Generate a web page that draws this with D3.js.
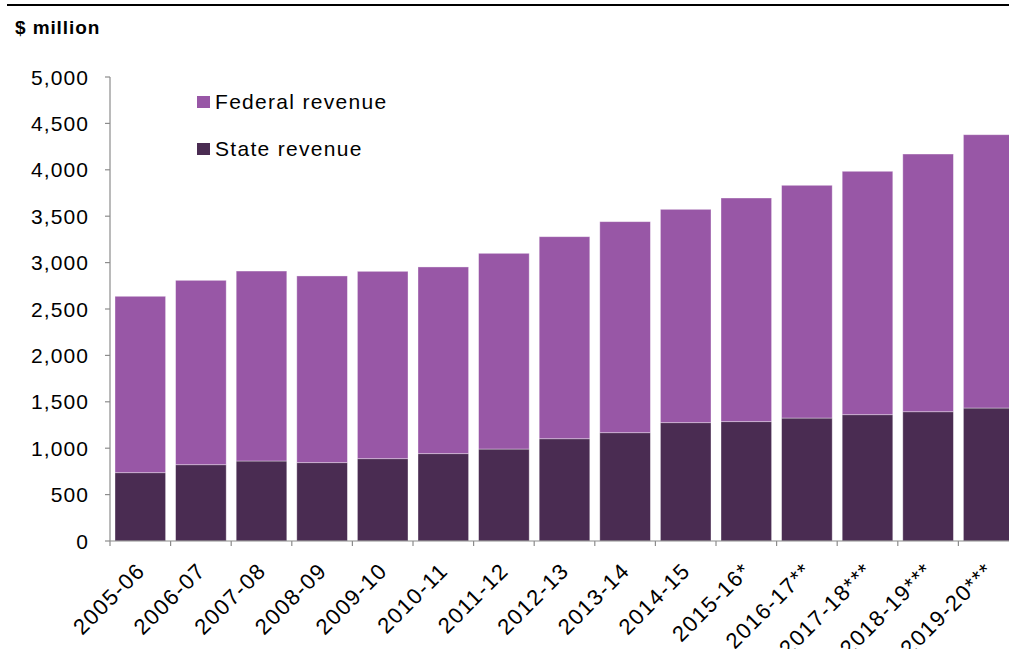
<!DOCTYPE html>
<html>
<head>
<meta charset="utf-8">
<script src="https://cdn.jsdelivr.net/npm/d3@7"></script>
<style>
  body { margin: 0; background: #fff; }
  text { font-family: "Liberation Sans", Arial, sans-serif; fill: #000; }
</style>
</head>
<body>
<svg id="chart" width="1009" height="649"></svg>
<script>
// --- data ($ million) ---
var years = ["2005-06", "2006-07", "2007-08", "2008-09", "2009-10", "2010-11", "2011-12",
  "2012-13", "2013-14", "2014-15", "2015-16*", "2016-17**", "2017-18***", "2018-19***", "2019-20***"];
var stateRevenue = [736, 822, 862, 844, 887, 941, 991, 1102, 1167, 1275, 1286, 1325, 1361, 1393, 1433];
var federalRevenue = [1901, 1987, 2047, 2012, 2019, 2012, 2109, 2177, 2274, 2299, 2410, 2508, 2623, 2777, 2945];
var yTicks = [0, 500, 1000, 1500, 2000, 2500, 3000, 3500, 4000, 4500, 5000];

var seriesNames = ["State revenue", "Federal revenue"];
var colors = { "State revenue": "#4a2c52", "Federal revenue": "#9857a6" };

var svg = d3.select("#chart");

var plot = { left: 110, bottom: 541, top: 77, right: 1019 };

var x = d3.scaleBand()
  .domain(years)
  .range([plot.left, plot.right])
  .paddingInner(0.165)
  .paddingOuter(0.0825);

var y = d3.scaleLinear()
  .domain([0, 5000])
  .range([plot.bottom, plot.top]);

// build rows for the stack
var rows = years.map(function(yr, i) {
  return { year: yr, "State revenue": stateRevenue[i], "Federal revenue": federalRevenue[i] };
});
var stacked = d3.stack().keys(seriesNames)(rows);

// rule at the very top
svg.append("line")
  .attr("x1", 7).attr("x2", 1009)
  .attr("y1", 5).attr("y2", 5)
  .attr("stroke", "#000")
  .attr("stroke-width", 2);

// unit title
svg.append("text")
  .attr("x", 15).attr("y", 34)
  .style("font-size", "19px")
  .style("font-weight", "bold")
  .style("letter-spacing", "0.9px")
  .text("$ million");

// bars
svg.append("g")
  .selectAll("g")
  .data(stacked)
  .enter()
  .append("g")
    .attr("fill", function(d) { return colors[d.key]; })
  .selectAll("rect")
  .data(function(d) { return d; })
  .enter()
  .append("rect")
    .attr("x", function(d) { return x(d.data.year); })
    .attr("width", x.bandwidth())
    .attr("y", function(d) { return y(d[1]); })
    .attr("height", function(d) { return y(d[0]) - y(d[1]); })
    .attr("stroke", "rgba(255,255,255,0.45)")
    .attr("stroke-width", 0.8);

// y axis
var yAxis = svg.append("g");
yAxis.append("line")
  .attr("x1", plot.left).attr("x2", plot.left)
  .attr("y1", y(5000)).attr("y2", y(0))
  .attr("stroke", "#8c8c8c").attr("stroke-width", 1.2);
yAxis.selectAll(".ytick")
  .data(yTicks)
  .enter()
  .append("line")
    .attr("class", "ytick")
    .attr("x1", plot.left - 5).attr("x2", plot.left)
    .attr("y1", function(d) { return y(d); })
    .attr("y2", function(d) { return y(d); })
    .attr("stroke", "#8c8c8c").attr("stroke-width", 1.2);
yAxis.selectAll(".ylabel")
  .data(yTicks)
  .enter()
  .append("text")
    .attr("class", "ylabel")
    .attr("x", 89)
    .attr("y", function(d) { return y(d) + 7.5; })
    .attr("text-anchor", "end")
    .style("font-size", "21px")
    .style("letter-spacing", "1.1px")
    .text(function(d) { return d3.format(",")(d); });

// x axis (ticks between categories)
var xAxis = svg.append("g");
xAxis.append("line")
  .attr("x1", plot.left).attr("x2", 1009)
  .attr("y1", plot.bottom).attr("y2", plot.bottom)
  .attr("stroke", "#8c8c8c").attr("stroke-width", 1.2);
xAxis.selectAll(".xtick")
  .data(years)
  .enter()
  .append("line")
    .attr("class", "xtick")
    .attr("x1", function(d) { return x(d) - x.step() * x.paddingInner() / 2; })
    .attr("x2", function(d) { return x(d) - x.step() * x.paddingInner() / 2; })
    .attr("y1", plot.bottom).attr("y2", plot.bottom + 5)
    .attr("stroke", "#8c8c8c").attr("stroke-width", 1.2);
xAxis.selectAll(".xlabel")
  .data(years)
  .enter()
  .append("text")
    .attr("class", "xlabel")
    .attr("text-anchor", "end")
    .style("font-size", "22px")
    .style("letter-spacing", "1.4px")
    .attr("transform", function(d) {
      var cx = x(d) + x.bandwidth() / 2 + 6;
      return "translate(" + cx + "," + 572 + ") rotate(-45)";
    })
    .text(function(d) { return d; });

// legend
var legendItems = ["Federal revenue", "State revenue"];
var legend = svg.append("g")
  .selectAll("g")
  .data(legendItems)
  .enter()
  .append("g")
    .attr("transform", function(d, i) { return "translate(197," + (96 + i * 47) + ")"; });
legend.append("rect")
  .attr("width", 13).attr("height", 12)
  .attr("fill", function(d) { return colors[d]; });
legend.append("text")
  .attr("x", 18).attr("y", 12.5)
  .style("font-size", "21px")
  .style("letter-spacing", "1.3px")
  .text(function(d) { return d; });
</script>
</body>
</html>
